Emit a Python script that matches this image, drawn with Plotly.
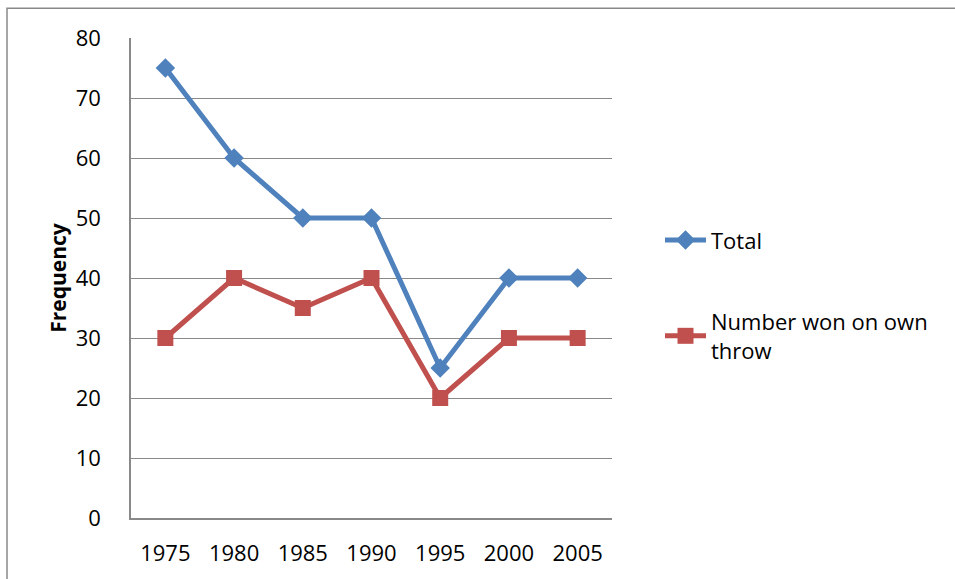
import plotly.graph_objects as go

years = ["1975", "1980", "1985", "1990", "1995", "2000", "2005"]
total = [75, 60, 50, 50, 25, 40, 40]
won_own_throw = [30, 40, 35, 40, 20, 30, 30]
y_ticks = [0, 10, 20, 30, 40, 50, 60, 70, 80]

BLUE = "#4F81BD"
RED = "#C0504D"
GRID = "#898989"
FONT = "Open Sans"

fig = go.Figure()
fig.add_trace(go.Scatter(
    x=years, y=total, name="Total", mode="lines+markers",
    line=dict(color=BLUE, width=5),
    marker=dict(symbol="diamond", size=15, color=BLUE),
    legendgroup="a",
))
fig.add_trace(go.Scatter(
    x=years, y=won_own_throw, name="Number won on own<br>throw", mode="lines+markers",
    line=dict(color=RED, width=5),
    marker=dict(symbol="square", size=16, color=RED),
    legendgroup="b",
))

L, R, T, B = 131, 612, 38, 523
W, H = 955, 579
fig.update_layout(
    width=W, height=H,
    margin=dict(l=L, r=W - R, t=T, b=H - B, pad=0),
    paper_bgcolor="white", plot_bgcolor="white",
    font=dict(family=FONT, size=22, color="black"),
    showlegend=True,
    legend=dict(
        x=(660 - L) / (R - L), y=1 - (221 - T) / (B - T),
        xanchor="left", yanchor="top",
        traceorder="grouped", tracegroupgap=50, itemwidth=41,
        font=dict(family=FONT, size=22, color="black"),
        bgcolor="rgba(0,0,0,0)",
    ),
    xaxis=dict(
        type="category", range=[-0.5, 6.5],
        showgrid=False, showline=True, linecolor=GRID, linewidth=1.5,
        ticks="", ticklabelstandoff=15,
        tickfont=dict(family=FONT, size=22),
    ),
    yaxis=dict(
        range=[0, 80], tickvals=y_ticks,
        showgrid=True, gridcolor=GRID, gridwidth=1.3,
        showline=True, linecolor=GRID, linewidth=1.5,
        zeroline=False,
        ticks="", ticklabelstandoff=24,
        tickfont=dict(family=FONT, size=22),
        title=dict(text="<b>Frequency</b>", font=dict(family=FONT, size=21), standoff=3),
    ),
    shapes=[dict(
        type="rect", xref="paper", yref="paper",
        x0=(7 - L) / (R - L), x1=(W + 20 - L) / (R - L),
        y0=-(H + 20 - B) / (B - T), y1=1 + (T - 8) / (B - T),
        line=dict(color=GRID, width=1.5), fillcolor="rgba(0,0,0,0)", layer="below",
    )],
)

fig.write_html(
    "out.html",
    config={"displayModeBar": False},
    post_script="document.body.style.margin='0';document.body.style.overflow='hidden';",
)
